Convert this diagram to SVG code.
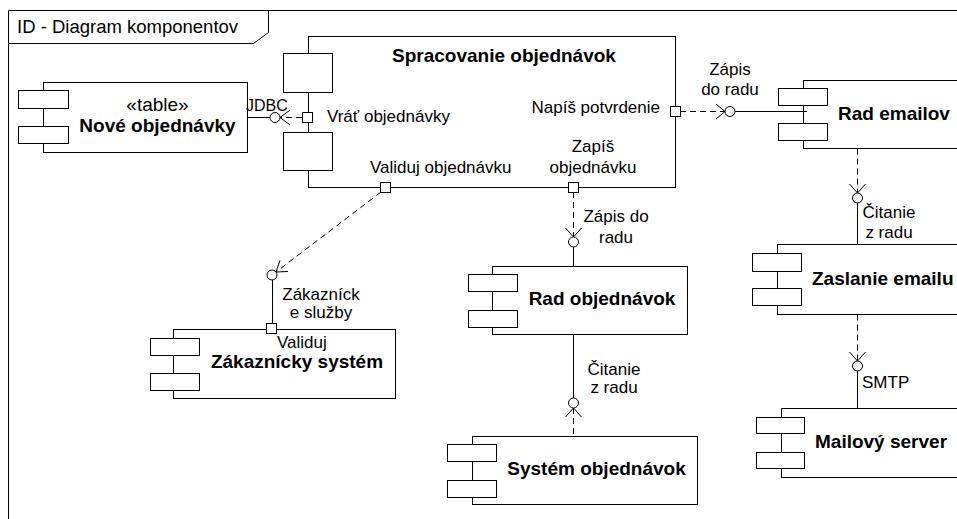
<svg xmlns="http://www.w3.org/2000/svg" width="957" height="519" viewBox="0 0 957 519">
<style>
.ln{fill:none;stroke:#000;stroke-width:1}
.box{fill:#fff;stroke:#000;stroke-width:1}
.dash{fill:none;stroke:#000;stroke-width:1;stroke-dasharray:6 4}
.t{font-family:"Liberation Sans",Arial,sans-serif;font-size:17px;fill:#000}
.b{font-family:"Liberation Sans",Arial,sans-serif;font-size:19px;font-weight:bold;fill:#000}
.s{font-family:"Liberation Sans",Arial,sans-serif;font-size:19px;fill:#000}
.m{text-anchor:middle}
</style>
<rect width="957" height="519" fill="#fff"/>
<g id="frame">
<path class="ln" d="M8.5,519 L8.5,10.5 L957,10.5"/>
<path class="ln" d="M8.5,43.5 L253.5,43.5 L268.5,32.5 L268.5,10.5"/>
<text class="t" x="17" y="33" style="font-size:18.5px">ID - Diagram komponentov</text>
</g>
<g id="nove-objednavky">
<rect class="box" x="43.5" y="82.5" width="204" height="70"/>
<rect class="box" x="18.5" y="90.5" width="50" height="18"/>
<rect class="box" x="18.5" y="126.5" width="50" height="17"/>
<text class="s m" x="157.5" y="111">«table»</text>
<text class="b m" x="157.5" y="132">Nové objednávky</text>
</g>
<g id="spracovanie-objednavok">
<rect class="box" x="308.5" y="36.5" width="367" height="151"/>
<rect class="box" x="283.5" y="53.5" width="49" height="39"/>
<rect class="box" x="283.5" y="132.5" width="49" height="38"/>
<text class="b m" x="504" y="62">Spracovanie objednávok</text>
<text class="t" x="327" y="122">Vráť objednávky</text>
<text class="t" x="660" y="113" text-anchor="end">Napíš potvrdenie</text>
<text class="t" x="370" y="173">Validuj objednávku</text>
<text class="t m" x="593" y="152">Zapíš</text>
<text class="t m" x="593" y="173">objednávku</text>
</g>
<g id="rad-emailov">
<rect class="box" x="803.5" y="80.5" width="200" height="68"/>
<rect class="box" x="778.5" y="88.5" width="49" height="17"/>
<rect class="box" x="778.5" y="123.5" width="49" height="17"/>
<text class="b" x="838" y="120">Rad emailov</text>
</g>
<g id="zaslanie-emailu">
<rect class="box" x="777.5" y="244.5" width="220" height="70"/>
<rect class="box" x="752.5" y="253.5" width="49" height="18"/>
<rect class="box" x="752.5" y="288.5" width="49" height="17"/>
<text class="b" x="812" y="285">Zaslanie emailu</text>
</g>
<g id="mailovy-server">
<rect class="box" x="781.5" y="408.5" width="220" height="69"/>
<rect class="box" x="756.5" y="417.5" width="48" height="16"/>
<rect class="box" x="756.5" y="452.5" width="48" height="16"/>
<text class="b" x="815" y="448">Mailový server</text>
</g>
<g id="zakaznicky-system">
<rect class="box" x="173.5" y="329.5" width="222" height="69"/>
<rect class="box" x="150.5" y="338.5" width="49" height="17"/>
<rect class="box" x="150.5" y="373.5" width="49" height="17"/>
<text class="b m" x="297" y="368">Zákaznícky systém</text>
<text class="t" x="277" y="348">Validuj</text>
</g>
<g id="rad-objednavok">
<rect class="box" x="492.5" y="266.5" width="195" height="68"/>
<rect class="box" x="468.5" y="274.5" width="49" height="17"/>
<rect class="box" x="468.5" y="310.5" width="49" height="17"/>
<text class="b m" x="602" y="305">Rad objednávok</text>
</g>
<g id="system-objednavok">
<rect class="box" x="472.5" y="436.5" width="225" height="68"/>
<rect class="box" x="447.5" y="444.5" width="49" height="17"/>
<rect class="box" x="447.5" y="480.5" width="49" height="17"/>
<text class="b m" x="596.5" y="475">Systém objednávok</text>
</g>
<g id="connectors">
<!-- JDBC -->
<line class="ln" x1="247.5" y1="117.5" x2="270" y2="117.5"/>
<circle class="ln" cx="275" cy="117.5" r="5"/>
<line class="dash" x1="302" y1="117.5" x2="280" y2="117.5"/>
<path class="ln" d="M290,110 L280,117.5 L290,125"/>
<text class="t" x="246" y="111" style="font-size:16px">JDBC</text>
<!-- Napis potvrdenie -> Rad emailov -->
<line class="dash" x1="680" y1="111.5" x2="725" y2="111.5"/>
<path class="ln" d="M716,104 L725,111.5 L716,119"/>
<circle class="ln" cx="730" cy="111.5" r="5"/>
<line class="ln" x1="735" y1="111.5" x2="807" y2="111.5"/>
<text class="t m" x="730" y="75">Zápis</text>
<text class="t m" x="730" y="95">do radu</text>
<!-- Zaslanie emailu reads Rad emailov -->
<line class="dash" x1="857.5" y1="148.5" x2="857.5" y2="193"/>
<path class="ln" d="M849.5,184 L857.5,193 L865.5,184"/>
<circle class="ln" cx="857.5" cy="198" r="5"/>
<line class="ln" x1="857.5" y1="203" x2="857.5" y2="244.5"/>
<text class="t m" x="889" y="218">Čitanie</text>
<text class="t m" x="889" y="238">z radu</text>
<!-- SMTP -->
<line class="dash" x1="857.5" y1="314.5" x2="857.5" y2="361"/>
<path class="ln" d="M849.5,352 L857.5,361 L865.5,352"/>
<circle class="ln" cx="857.5" cy="366" r="5"/>
<line class="ln" x1="857.5" y1="371" x2="857.5" y2="408.5"/>
<text class="t" x="862" y="388">SMTP</text>
<!-- Validuj objednavku -> Zakaznicke sluzby -->
<line class="dash" x1="381" y1="192" x2="276" y2="272"/>
<path class="ln" d="M288,271.5 L276,272 L280,260.5"/>
<circle class="ln" cx="272" cy="275" r="5"/>
<line class="ln" x1="272.5" y1="280" x2="272.5" y2="324"/>
<text class="t m" x="321" y="300">Zákazníck</text>
<text class="t m" x="321" y="318">e služby</text>
<!-- Zapis objednavku -> Rad objednavok -->
<line class="dash" x1="573.5" y1="192" x2="573.5" y2="237"/>
<path class="ln" d="M565.5,228 L573.5,237 L581.5,228"/>
<circle class="ln" cx="573.5" cy="242" r="5"/>
<line class="ln" x1="573.5" y1="247" x2="573.5" y2="266.5"/>
<text class="t m" x="616" y="222">Zápis do</text>
<text class="t m" x="616" y="243">radu</text>
<!-- Rad objednavok <- System objednavok -->
<line class="ln" x1="573.5" y1="334.5" x2="573.5" y2="398"/>
<circle class="ln" cx="573.5" cy="403" r="5"/>
<path class="ln" d="M565.5,417 L573.5,408 L581.5,417"/>
<line class="dash" x1="573.5" y1="408" x2="573.5" y2="436.5"/>
<text class="t m" x="614" y="375">Čitanie</text>
<text class="t m" x="614" y="393">z radu</text>
</g>
<g id="ports">
<rect class="box" x="302.5" y="112.5" width="10" height="10"/>
<rect class="box" x="670.5" y="106.5" width="10" height="10"/>
<rect class="box" x="380.5" y="182.5" width="10" height="10"/>
<rect class="box" x="568.5" y="182.5" width="10" height="10"/>
<rect class="box" x="266.5" y="323.5" width="10" height="10"/>
</g>
</svg>
